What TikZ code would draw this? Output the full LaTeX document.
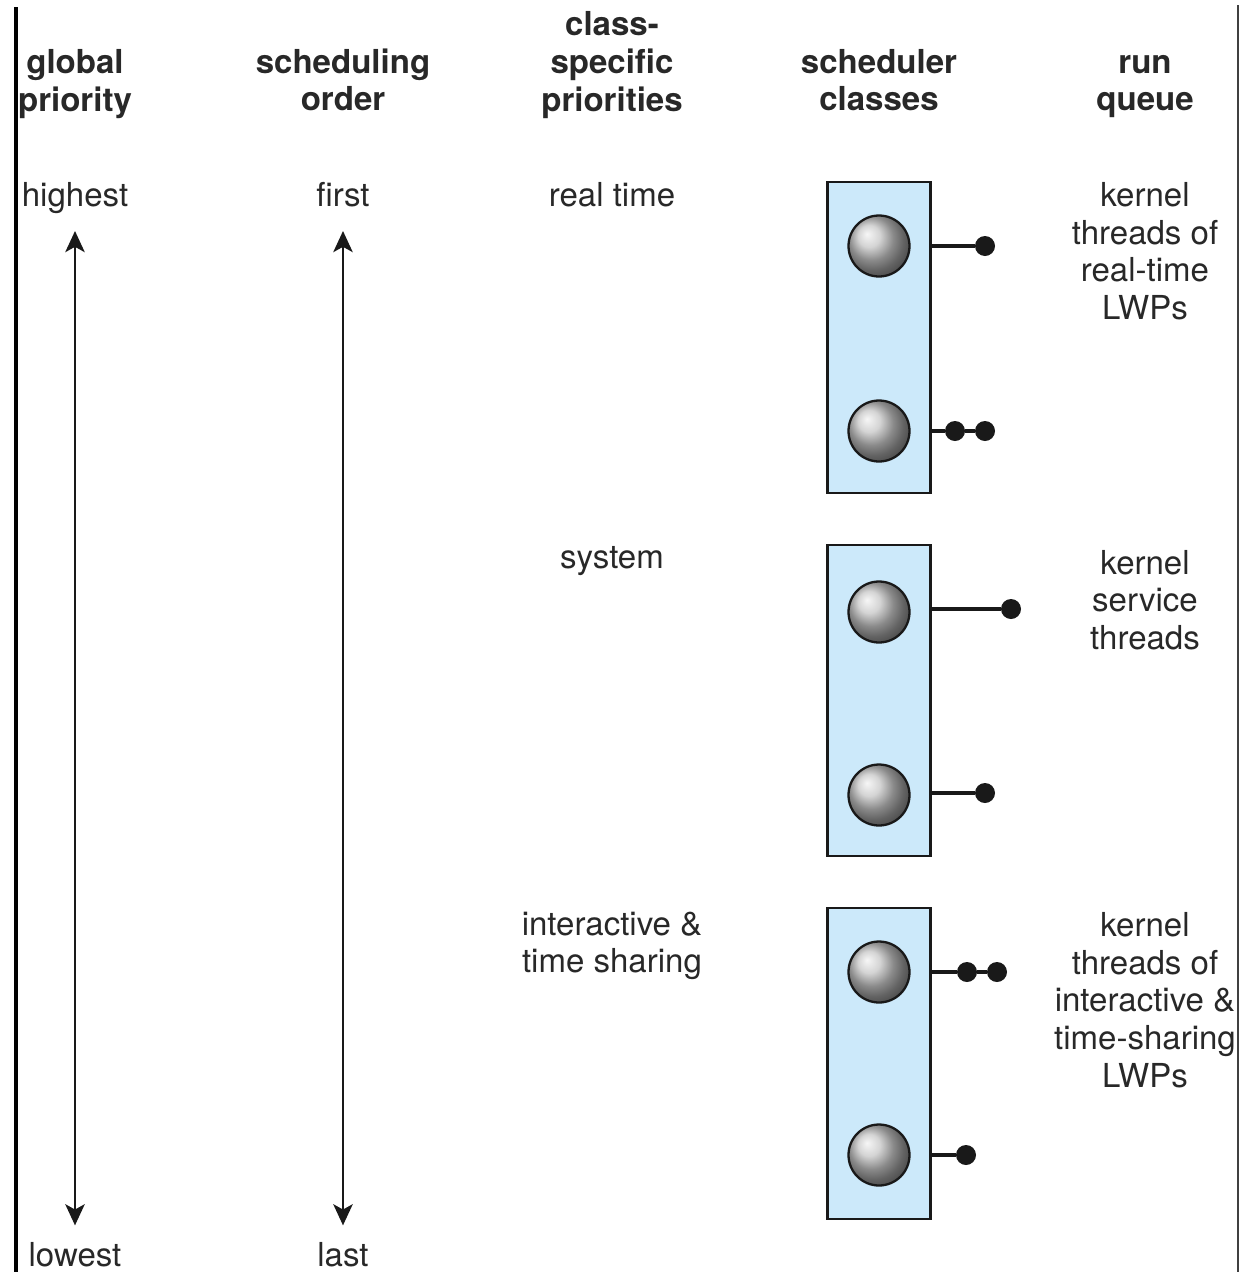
\documentclass[tikz,border=0pt]{standalone}
\usepackage{fontspec}
\setmainfont{TeX Gyre Heros}
\usetikzlibrary{arrows.meta}
\definecolor{boxblue}{RGB}{204,233,250}
\definecolor{inkgray}{RGB}{40,40,40}

\begin{document}
\begin{tikzpicture}[x=0.02cm,y=-0.02cm]
\tikzset{
  every node/.append style={text=inkgray, font=\fontsize{18.8}{21.4}\selectfont, align=center, inner sep=0pt},
  head/.style={font=\fontsize{18.8}{21.4}\selectfont\bfseries},
  classbox/.style={draw=black!90, line width=1.6pt, fill=boxblue, minimum width=2.06cm, minimum height=6.22cm},
  thread/.style={circle, draw=black!90, line width=1.3pt, shading=ball, ball color=gray!45, minimum size=1.22cm},
  lwp/.style={circle, fill=black!90, minimum size=0.4cm},
  link/.style={line width=1.8pt, black!90},
  scalearrow/.style={line width=1.6pt, black!90, >={Stealth[length=12pt,width=11pt,inset=3pt]}, <->}
}
\useasboundingbox (0,0) rectangle (1239,1272);
\draw[line width=2.3pt] (16,7) -- (16,1272);
\draw[line width=1pt, black!75] (1238,5) -- (1238,1272);

% column heads
\node[head] (hglobal) at (75,84) {global\\priority};
\node[head] (horder) at (343,80) {scheduling\\order};
\node[head] (hprio) at (612,65) {class-\\specific\\priorities};
\node[head] (hclass) at (879,80) {scheduler\\classes};
\node[head] (hqueue) at (1145,86.5) {run\\queue};

% ends of the scales
\node (highest) at (75,198) {highest};
\node (lowest) at (75,1255) {lowest};
\node (first) at (343,195) {first};
\node (last) at (343,1255) {last};
\path (highest.south) ++(0,17) coordinate (gtop) (lowest.north) ++(0,-17) coordinate (gbot);
\draw[scalearrow] (gtop) -- (gbot);
\draw[scalearrow] (gtop -| first) -- (gbot -| last);

% class priorities
\node (realtime) at (612,195) {real time};
\node (system) at (612,561) {system};
\node (inter) at (612,946) {interactive \&\\time sharing};

% scheduler classes
\node[classbox] (rtbox) at (879,337.5) {};
\node[classbox] (sysbox) at (879,700.5) {};
\node[classbox] (tsbox) at (879,1063.5) {};

\node[thread] (rt1) at (879,246) {};
\node[thread] (rt2) at (879,431) {};
\node[thread] (sys1) at (879,612) {};
\node[thread] (sys2) at (879,795) {};
\node[thread] (ts1) at (879,972) {};
\node[thread] (ts2) at (879,1155) {};

% run queues
\node[lwp] (q1a) at (985,246) {};
\node[lwp] (q2a) at (955,431) {};
\node[lwp] (q2b) at (985,431) {};
\node[lwp] (q3a) at (1011,609) {};
\node[lwp] (q4a) at (985,793) {};
\node[lwp] (q5a) at (967,972) {};
\node[lwp] (q5b) at (997,972) {};
\node[lwp] (q6a) at (966,1155) {};

\draw[link] (q1a -| rtbox.east) -- (q1a);
\draw[link] (q2a -| rtbox.east) -- (q2a) -- (q2b);
\draw[link] (q3a -| sysbox.east) -- (q3a);
\draw[link] (q4a -| sysbox.east) -- (q4a);
\draw[link] (q5a -| tsbox.east) -- (q5a) -- (q5b);
\draw[link] (q6a -| tsbox.east) -- (q6a);

\node (rtlwp) at (1145,251) {kernel\\threads of\\real-time\\LWPs};
\node (service) at (1145,600) {kernel\\service\\threads};
\node (tslwp) at (1145,1000) {kernel\\threads of\\interactive \&\\time-sharing\\LWPs};
\end{tikzpicture}
\end{document}
